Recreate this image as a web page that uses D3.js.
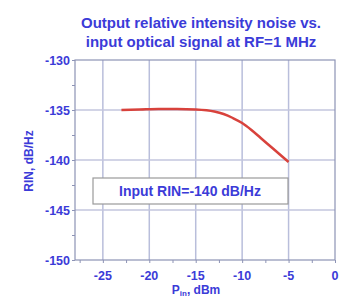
<!DOCTYPE html>
<html lang="en">
<head>
<meta charset="UTF-8">
<title>RIN vs input power</title>
<style>
  body { margin: 0; background: #fff; }
  text { font-family: "Liberation Sans", Arial, sans-serif; font-weight: bold; fill: #3b3bd8; }
</style>
</head>
<body>
<script src="https://d3js.org/d3.v7.min.js"></script>
<script>
// data
var powerIn = [-23, -21, -19, -17, -15, -13, -12, -11, -10, -9, -8, -7, -6, -5];
var rinOut  = [-135.0, -134.95, -134.9, -134.9, -134.95, -135.15, -135.4, -135.8, -136.3, -137.0, -137.8, -138.6, -139.4, -140.2];
var xTicks = [-25, -20, -15, -10, -5, 0];
var yTicks = [-130, -135, -140, -145, -150];
var titleLines = ["Output relative intensity noise vs.", "input optical signal at RF=1 MHz"];
var boxText = "Input RIN=-140 dB/Hz";

var svg = d3.select("body").append("svg")
    .attr("width", 339)
    .attr("height", 297);

var x = d3.scaleLinear().domain([-28, 0]).range([75, 335]);
var y = d3.scaleLinear().domain([-150, -130]).range([260, 60]);

// grid
svg.append("g").selectAll("line").data(xTicks.filter(d => d > -28 && d < 0)).enter()
    .append("line")
    .attr("x1", d => x(d)).attr("x2", d => x(d))
    .attr("y1", y(-130)).attr("y2", y(-150))
    .attr("stroke", "#b9bedb").attr("stroke-width", 1.5);
svg.append("g").selectAll("line").data(yTicks.filter(d => d > -150 && d < -130)).enter()
    .append("line")
    .attr("x1", x(-28)).attr("x2", x(0))
    .attr("y1", d => y(d)).attr("y2", d => y(d))
    .attr("stroke", "#c3c6de").attr("stroke-width", 1.5);

// frame
svg.append("rect")
    .attr("x", x(-28)).attr("y", y(-130))
    .attr("width", x(0) - x(-28)).attr("height", y(-150) - y(-130))
    .attr("fill", "none").attr("stroke", "#8d93b5").attr("stroke-width", 1.2);

// axes (small tick marks only)
var yAxis = d3.axisLeft(y).tickValues(d3.range(-150, -129, 2.5)).tickSize(3).tickFormat("");
var gy = svg.append("g").attr("transform", "translate(" + x(-28) + ",0)").call(yAxis);
gy.select(".domain").remove();
gy.selectAll("line").attr("stroke", "#8d93b5");

var xAxis = d3.axisBottom(x).tickValues(d3.range(-27.5, 0.1, 2.5)).tickSize(3).tickFormat("");
var gx = svg.append("g").attr("transform", "translate(0," + y(-150) + ")").call(xAxis);
gx.select(".domain").remove();
gx.selectAll("line").attr("stroke", "#8d93b5");

svg.append("g").selectAll("text").data(yTicks).enter()
    .append("text")
    .attr("x", 70).attr("y", d => y(d) + 4.5)
    .attr("text-anchor", "end")
    .attr("font-size", 12.5)
    .text(d => d);

svg.append("g").selectAll("text").data(xTicks).enter()
    .append("text")
    .attr("x", d => x(d)).attr("y", 280)
    .attr("text-anchor", "middle")
    .attr("font-size", 12.5)
    .text(d => d);

// curve
var line = d3.line()
    .x((d, i) => x(powerIn[i]))
    .y(d => y(d))
    .curve(d3.curveMonotoneX);
svg.append("path")
    .datum(rinOut)
    .attr("d", line)
    .attr("fill", "none")
    .attr("stroke", "#d8423c")
    .attr("stroke-width", 2.5);

// annotation box
svg.append("rect")
    .attr("x", 93).attr("y", 178)
    .attr("width", 195).attr("height", 26)
    .attr("fill", "#fff")
    .attr("stroke", "#9a9a9a").attr("stroke-width", 1.2);
svg.append("text")
    .attr("x", 190).attr("y", 196)
    .attr("text-anchor", "middle")
    .attr("font-size", 14)
    .text(boxText);

// title
svg.append("g").selectAll("text").data(titleLines).enter()
    .append("text")
    .attr("x", 201).attr("y", (d, i) => 28 + i * 19)
    .attr("text-anchor", "middle")
    .attr("font-size", 15)
    .text(d => d);

// axis labels
svg.append("text")
    .attr("transform", "translate(33,161) rotate(-90)")
    .attr("text-anchor", "middle")
    .attr("font-size", 12)
    .text("RIN, dB/Hz");

var xl = svg.append("text")
    .attr("x", 196).attr("y", 294)
    .attr("text-anchor", "middle")
    .attr("font-size", 12);
xl.append("tspan").text("P");
xl.append("tspan").attr("dy", 2).attr("font-size", 8).text("in");
xl.append("tspan").attr("dy", -2).text(", dBm");
</script>
</body>
</html>
